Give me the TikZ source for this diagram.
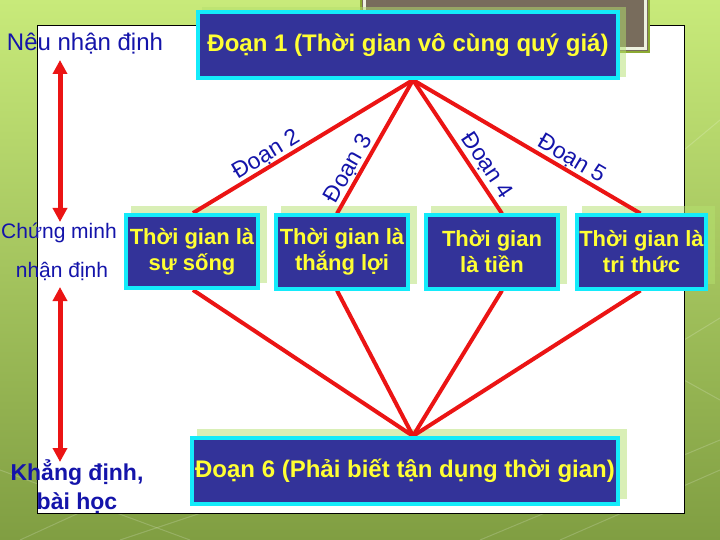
\documentclass[tikz,border=0pt]{standalone}
\usepackage{fontspec}
\setmainfont{Liberation Sans}
\usetikzlibrary{arrows.meta}
\pgfdeclarelayer{back}
\pgfdeclarelayer{shad}
\pgfdeclarelayer{lines}
\pgfsetlayers{back,shad,lines,main}
\definecolor{navyfill}{RGB}{51,51,153}
\definecolor{cyanb}{RGB}{20,235,250}
\definecolor{txtyellow}{RGB}{255,255,51}
\definecolor{lblblue}{RGB}{20,20,170}
\definecolor{redline}{RGB}{235,20,20}
\definecolor{shadowg}{RGB}{180,225,110}
\definecolor{browngrey}{RGB}{120,108,92}
\definecolor{olivel}{RGB}{140,170,50}
\definecolor{bgtop}{RGB}{200,234,122}
\definecolor{bgbot}{RGB}{128,158,66}
\begin{document}
\begin{tikzpicture}[x=1pt,y=-1pt,
  box/.style={draw=cyanb, line width=4pt, fill=navyfill, text=txtyellow,
    font=\fontsize{22}{26}\selectfont\bfseries, align=center, inner sep=0pt},
  bigbox/.style={box, font=\fontsize{24}{28}\selectfont\bfseries,
    minimum height=66pt},
  smallbox/.style={box, minimum width=132pt, minimum height=73pt},
  link/.style={draw=redline, line width=4pt},
  seglabel/.style={sloped, above, text=lblblue,
    font=\fontsize{23}{26}\selectfont, inner sep=0pt},
  side/.style={text=lblblue, font=\fontsize{21}{24}\selectfont, inner sep=0pt},
  sidebold/.style={text=lblblue, font=\fontsize{23}{26}\selectfont\bfseries, inner sep=0pt},
  arr/.style={draw=redline, line width=5pt,
    {Triangle[width=14pt,length=14pt]}-{Triangle[width=14pt,length=14pt]}},
]
\useasboundingbox (0,0) rectangle (720,540);

\begin{pgfonlayer}{back}
  \shade[top color=bgtop, bottom color=bgbot] (0,0) rectangle (720,540);
  \begin{scope}[white, opacity=0.18, line width=1pt]
    \draw (0,470) -- (190,540);
    \draw (20,540) -- (260,430);
    \draw (120,540) -- (330,470);
    \draw (480,540) -- (720,440);
    \draw (560,540) -- (720,470);
    \draw (684,340) -- (720,318);
    \draw (684,380) -- (720,400);
    \draw (684,150) -- (720,120);
  \end{scope}
  \fill[white, draw=black, line width=1pt] (37,26) rectangle (684,513);
  \fill[browngrey] (360,-5) rectangle (650,53);
  \draw[olivel, line width=2pt] (361,-5) rectangle (649,52);
  \draw[white!85!olivel, line width=3pt] (364.5,-5) rectangle (645.5,48.5);
\end{pgfonlayer}

% boxes
\node[bigbox, minimum width=420pt] (d1) at (408,45) {Đoạn 1 (Thời gian vô cùng quý giá)};
\node[smallbox] (a) at (192,251.5) {Thời gian là\\sự sống};
\node[smallbox] (b) at (342,252) {Thời gian là\\thắng lợi};
\node[smallbox] (c) at (492,252) {Thời gian\\là tiền};
\node[smallbox, minimum width=129pt] (d) at (641.5,252) {Thời gian là\\tri thức};
\node[bigbox, minimum width=426pt] (d6) at (405,471) {Đoạn 6 (Phải biết tận dụng thời gian)};

% shadows
\begin{pgfonlayer}{shad}
  \foreach \n in {a,b,c,d,d6}
    \fill[shadowg, opacity=0.5] ([shift={(7,-7)}]\n.south west) rectangle ([shift={(7,-7)}]\n.north east);
  \fill[shadowg, opacity=0.5] ([shift={(6,-3)}]d1.south west) rectangle ([shift={(6,-3)}]d1.north east);
\end{pgfonlayer}

% connectors
\begin{pgfonlayer}{lines}
  \coordinate (top) at ([xshift=5pt]d1.south);
  \coordinate (bot) at ([xshift=8pt]d6.north);
  \draw[link] (top) -- node[seglabel, pos=0.64] {Đoạn 2} ([xshift=1pt]a.north);
  \draw[link] (top) -- node[seglabel, pos=0.71] {Đoạn 3} ([xshift=-5pt]b.north);
  \draw[link] (top) -- node[seglabel, pos=0.70, above=2pt] {Đoạn 4} ([xshift=10pt]c.north);
  \draw[link] (top) -- node[seglabel, pos=0.67] {Đoạn 5} ([xshift=-1pt]d.north);
  \draw[link] ([xshift=1pt]a.south) -- (bot);
  \draw[link] ([xshift=-5pt]b.south) -- (bot);
  \draw[link] ([xshift=10pt]c.south) -- (bot);
  \draw[link] ([xshift=-1pt]d.south) -- (bot);
\end{pgfonlayer}

% side labels
\node[side, font=\fontsize{24}{27}\selectfont] (neu) at (85,44) {Nêu nhận định};
\node[side] (cm) at (59,233) {Chứng minh};
\node[side] (nd) at (62,271) {nhận định};
\node[sidebold] (kd) at (77,473) {Khẳng định,};
\node[sidebold] (bh) at (77,503) {bài học};

\coordinate (u1) at (60,60);
\coordinate (u2) at (60,222);
\coordinate (l1) at (60,287);
\coordinate (l2) at (60,462);
\draw[arr] (u1) -- (u2);
\draw[arr] (l1) -- (l2);
\end{tikzpicture}
\end{document}
